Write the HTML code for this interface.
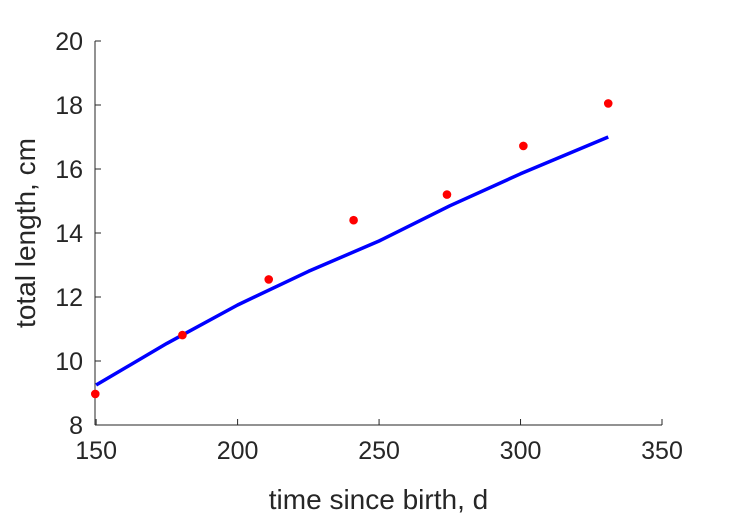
<!DOCTYPE html>
<html><head><meta charset="utf-8"><style>
body{margin:0;background:#fff;}
svg{display:block;font-family:"Liberation Sans",sans-serif;}
</style></head><body>
<svg id="chart" width="729" height="521"></svg>
<script>
const obsDays=[149.7,180.5,211,241,274,301,331];
const obsLength=[8.97,10.81,12.55,14.4,15.2,16.72,18.05];
const fitDays=[150,175,200,225,250,275,300,331];
const fitLength=[9.25,10.55,11.75,12.8,13.75,14.85,15.85,17.0];
const xTicks=[150,200,250,300,350];
const yTicks=[8,10,12,14,16,18,20];
const X0=95,X1=662,XMIN=149.6,XMAX=350;
const Y0=425,Y1=41,YMIN=8,YMAX=20;
const sx=v=>X0+(v-XMIN)/(XMAX-XMIN)*(X1-X0);
const sy=v=>Y0-(v-YMIN)/(YMAX-YMIN)*(Y0-Y1);
const NS="http://www.w3.org/2000/svg";
const svg=document.getElementById('chart');
function mk(t,a){const e=document.createElementNS(NS,t);for(const k in a)e.setAttribute(k,a[k]);svg.appendChild(e);return e;}
let e=mk('line',{x1:X0,y1:Y0,x2:X1,y2:Y0,stroke:'#262626','stroke-width':1});


e=mk('line',{x1:X0,y1:Y0,x2:X0,y2:Y1,stroke:'#262626','stroke-width':1});


xTicks.forEach(v=>{
  const x=sx(v);
  let t=mk('line',{x1:x,y1:Y0,x2:x,y2:Y0-6,stroke:'#262626'});
  
  
  let l=mk('text',{x:x,y:Y0+34,'text-anchor':'middle','font-size':25,fill:'#262626'});
  l.textContent=v;
  
  
});
yTicks.forEach(v=>{
  const y=sy(v);
  let t=mk('line',{x1:X0,y1:y,x2:X0+6,y2:y,stroke:'#262626'});
  
  
  let l=mk('text',{x:X0-12,y:y+9,'text-anchor':'end','font-size':25,fill:'#262626'});
  l.textContent=v;
  
  
});
let xt=mk('text',{x:(X0+X1)/2,y:509,'text-anchor':'middle','font-size':28,fill:'#262626'});
xt.textContent='time since birth, d';


let yt=mk('text',{x:0,y:0,'text-anchor':'middle','font-size':28,fill:'#262626',transform:'translate(35,233) rotate(-90)'});
yt.textContent='total length, cm';


let p=mk('polyline',{points:fitDays.map((d,i)=>sx(d)+','+sy(fitLength[i])).join(' '),fill:'none',stroke:'#0000ff','stroke-width':3.5,'stroke-linejoin':'round'});


obsDays.forEach((d,i)=>{
  let c=mk('circle',{cx:sx(d),cy:sy(obsLength[i]),r:4.3,fill:'#ff0000'});
  
  
});
</script>
</body></html>
